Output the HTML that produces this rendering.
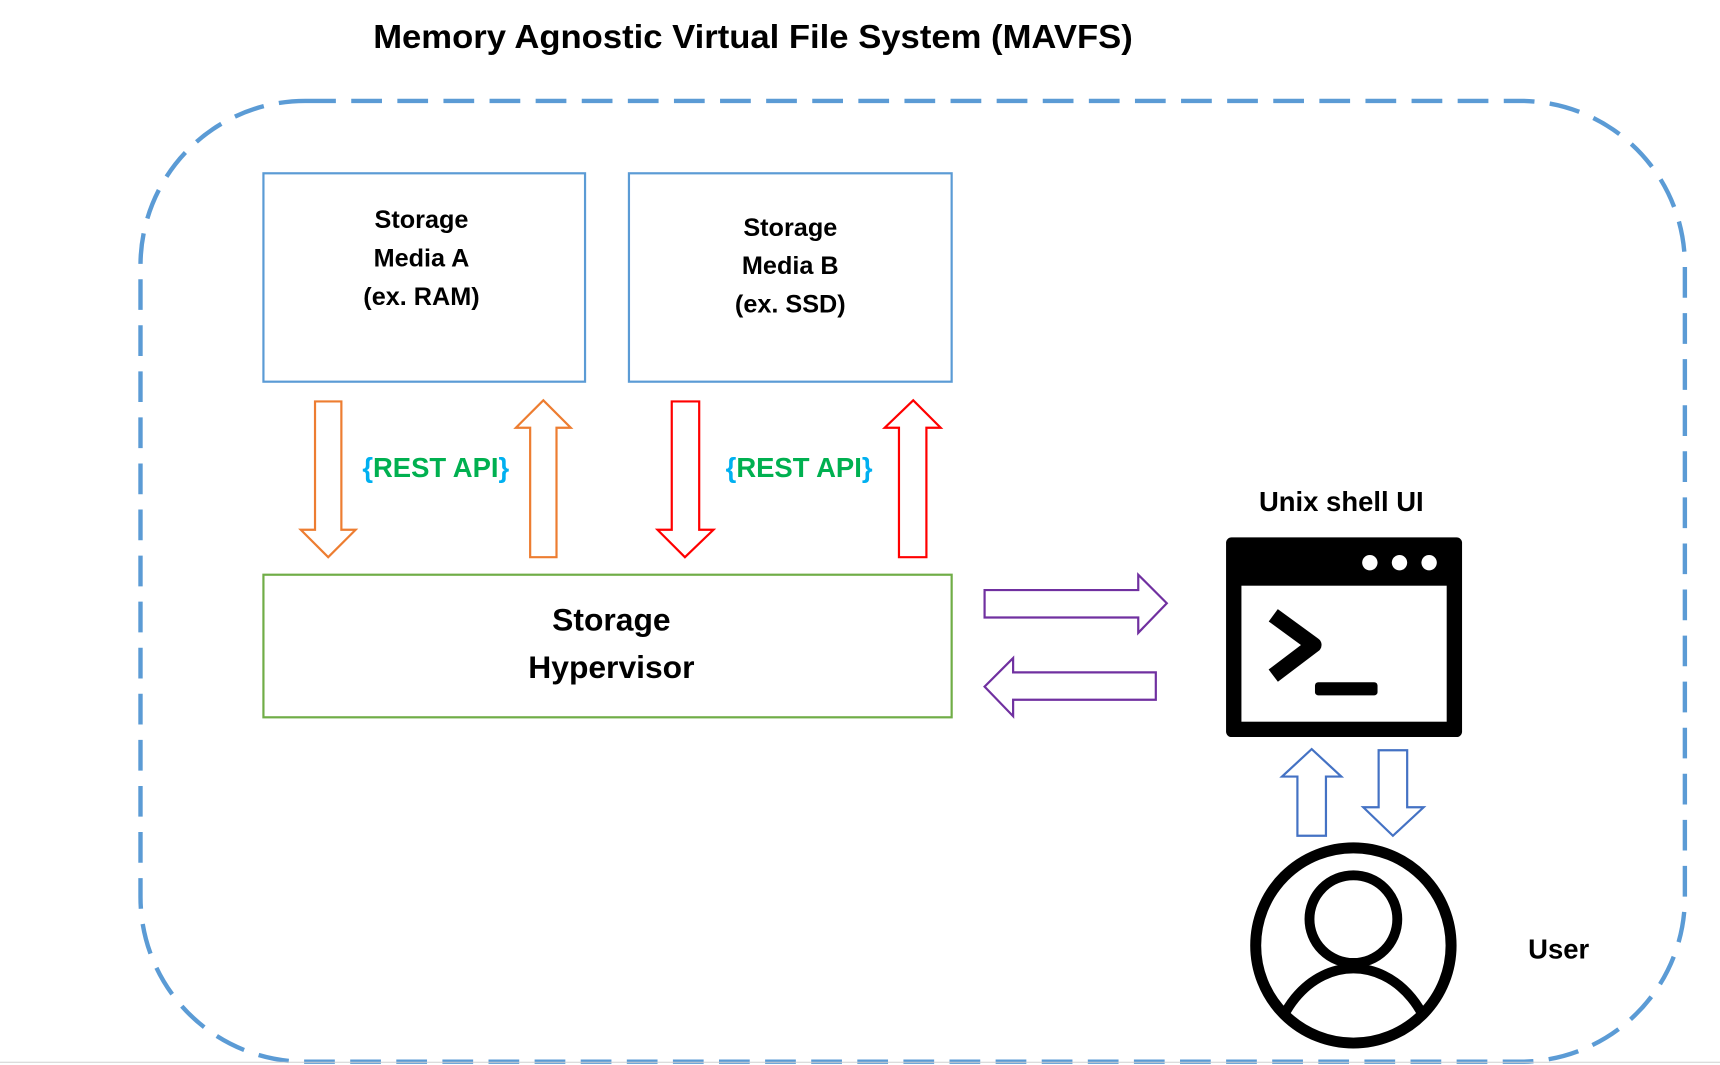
<!DOCTYPE html>
<html><head><style>html,body{margin:0;padding:0;background:#fff;overflow:hidden;width:1720px;height:1065px}svg{display:block}</style></head><body>
<svg width="1720" height="1065" viewBox="0 0 1567 971" preserveAspectRatio="none" xmlns="http://www.w3.org/2000/svg" font-family="Liberation Sans, sans-serif" font-weight="bold">
<rect x="128" y="92" width="1407" height="876" rx="150" ry="150" fill="none" stroke="#5b9bd5" stroke-width="4" stroke-dasharray="28 14"/>
<line x1="0" y1="968.5" x2="1567" y2="968.5" stroke="#d0d0d0" stroke-width="1"/>
<text x="686" y="44" font-size="30" text-anchor="middle" textLength="692" lengthAdjust="spacingAndGlyphs">Memory Agnostic Virtual File System (MAVFS)</text>
<rect x="240" y="158" width="293" height="190" fill="none" stroke="#5b9bd5" stroke-width="2"/>
<rect x="573" y="158" width="294" height="190" fill="none" stroke="#5b9bd5" stroke-width="2"/>
<g font-size="23" text-anchor="middle">
<text x="384" y="208">Storage</text><text x="384" y="243">Media A</text><text x="384" y="278">(ex. RAM)</text>
<text x="720" y="215">Storage</text><text x="720" y="250">Media B</text><text x="720" y="285">(ex. SSD)</text>
</g>
<rect x="240" y="524" width="627" height="130" fill="none" stroke="#70ad47" stroke-width="2"/>
<g font-size="29" text-anchor="middle"><text x="557" y="575">Storage</text><text x="557" y="618">Hypervisor</text></g>
<g fill="none" stroke-width="2">
<path d="M287 366 H311 V483 H324 L299 508 L274 483 H287 Z" stroke="#ed7d31"/>
<path d="M483 508 H507 V390 H520 L495 365 L470 390 H483 Z" stroke="#ed7d31"/>
<path d="M612 366 H637 V483 H650 L624 508 L599 483 H612 Z" stroke="#ff0000"/>
<path d="M819 508 H844 V390 H857 L832 365 L806 390 H819 Z" stroke="#ff0000"/>
<path d="M897 538 H1037 V524 L1063 550 L1037 577 V563 H897 Z" stroke="#7030a0"/>
<path d="M1053 613 H923 V600 L897 626 L923 653 V638 H1053 Z" stroke="#7030a0"/>
<path d="M1182 762 H1208 V708 H1222 L1195 683 L1168 708 H1182 Z" stroke="#4472c4"/>
<path d="M1256 684 H1282 V736 H1297 L1269 762 L1242 736 H1256 Z" stroke="#4472c4"/>
</g>
<g font-size="25" text-anchor="middle">
<text x="397" y="435"><tspan fill="#00b0f0">{</tspan><tspan fill="#00b050">REST API</tspan><tspan fill="#00b0f0">}</tspan></text>
<text x="728" y="435"><tspan fill="#00b0f0">{</tspan><tspan fill="#00b050">REST API</tspan><tspan fill="#00b0f0">}</tspan></text>
</g>
<text x="1222" y="466" font-size="25" text-anchor="middle">Unix shell UI</text>
<rect x="1117" y="490" width="215" height="182" rx="5" fill="#000"/>
<rect x="1131" y="534" width="187" height="124" fill="#fff"/>
<circle cx="1248" cy="513" r="7" fill="#fff"/><circle cx="1275" cy="513" r="7" fill="#fff"/><circle cx="1302" cy="513" r="7" fill="#fff"/>
<polyline points="1160,561 1197,588 1160,616" fill="none" stroke="#000" stroke-width="14" stroke-linejoin="round"/>
<rect x="1198" y="622" width="57" height="12" rx="3" fill="#000"/>
<defs><clipPath id="c"><circle cx="1233" cy="862" r="88"/></clipPath></defs>
<circle cx="1233" cy="862" r="89" fill="none" stroke="#000" stroke-width="10"/>
<circle cx="1233" cy="838" r="40" fill="none" stroke="#000" stroke-width="9"/>
<ellipse cx="1233" cy="975" rx="75" ry="92" fill="none" stroke="#000" stroke-width="9" clip-path="url(#c)"/>
<text x="1420" y="874" font-size="25" text-anchor="middle">User</text>
</svg>
</body></html>
